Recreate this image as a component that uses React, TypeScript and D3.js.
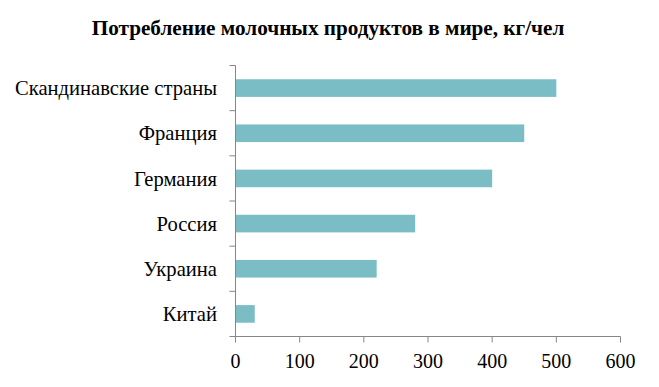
import {scaleBand, scaleLinear} from "d3";

const CATEGORIES = ["Скандинавские страны", "Франция", "Германия", "Россия", "Украина", "Китай"];
const VALUES = [500, 450, 400, 280, 220, 30];
const X_TICKS = [0, 100, 200, 300, 400, 500, 600];
const TITLE = "Потребление молочных продуктов в мире, кг/чел";

const WIDTH = 659;
const HEIGHT = 387;
const AXIS_COLOR = "#868686";
const BAR_COLOR = "#7bbdc5";
const FONT = "Liberation Serif";

export default function App() {
  const margins = {top: 65.5, right: 38.5, bottom: 50, left: 235.5};
  const innerWidth = WIDTH - margins.left - margins.right;
  const innerHeight = 336.5 - margins.top;

  const x = scaleLinear().domain([0, 600]).range([0, innerWidth]);
  const y = scaleBand<string>().domain(CATEGORIES).range([0, innerHeight]).paddingInner(0.61).paddingOuter(0.305);
  const boundaries = CATEGORIES.map((_, i) => (innerHeight / CATEGORIES.length) * i).concat(innerHeight);

  return (
    <svg width={WIDTH} height={HEIGHT} style={{position: "absolute", left: 0, top: 0}}>
      <rect width={WIDTH} height={HEIGHT} fill="#ffffff" />
      <text x={328} y={35} textAnchor="middle" fontWeight="bold" fontSize={21.2} fontFamily={FONT} fill="#000">
        {TITLE}
      </text>
      <g transform={`translate(${margins.left},${margins.top})`}>
        {CATEGORIES.map((category, i) => (
          <rect
            key={category}
            x={0}
            y={y(category)}
            width={x(VALUES[i])}
            height={y.bandwidth()}
            fill={BAR_COLOR}
          />
        ))}

        <line x1={0} x2={0} y1={0} y2={innerHeight} stroke={AXIS_COLOR} />
        {boundaries.map((b) => (
          <line key={`b-${b}`} x1={-6} x2={0} y1={b} y2={b} stroke={AXIS_COLOR} />
        ))}
        {CATEGORIES.map((category) => (
          <text
            key={`l-${category}`}
            x={-18.5}
            y={(y(category) ?? 0) + y.bandwidth() / 2}
            dy="0.35em"
            textAnchor="end"
            fontSize={20.6}
            fontFamily={FONT}
            fill="#000"
          >
            {category}
          </text>
        ))}

        <line x1={0} x2={innerWidth} y1={innerHeight} y2={innerHeight} stroke={AXIS_COLOR} />
        {X_TICKS.map((tick) => (
          <g key={`x-${tick}`} transform={`translate(${x(tick)},${innerHeight})`}>
            <line y2={6} stroke={AXIS_COLOR} />
            <text y={31} textAnchor="middle" fontSize={20} fontFamily={FONT} fill="#000">
              {tick}
            </text>
          </g>
        ))}
      </g>
    </svg>
  );
}
